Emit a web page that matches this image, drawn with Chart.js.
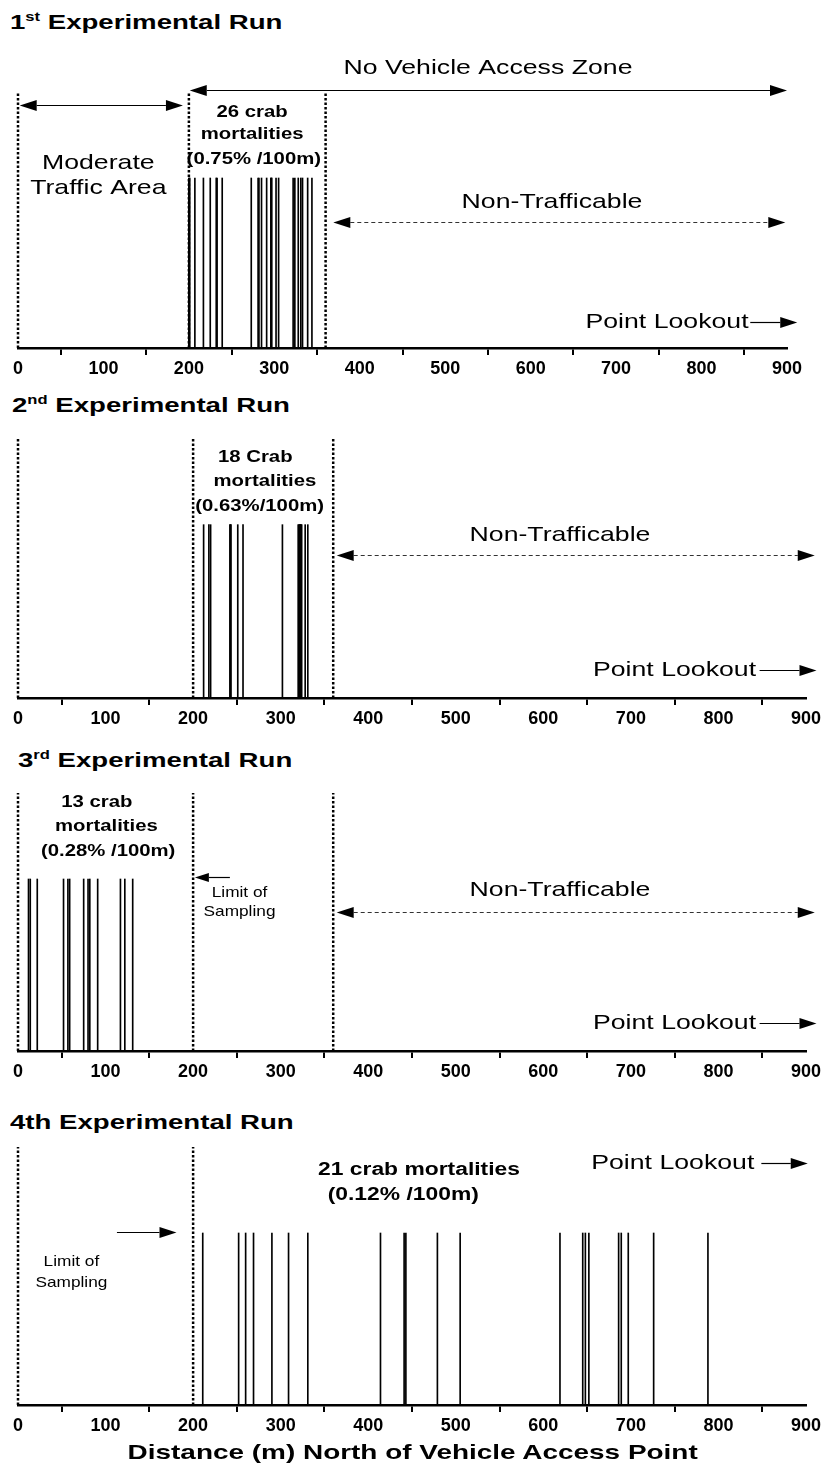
<!DOCTYPE html>
<html>
<head>
<meta charset="utf-8">
<script src="https://cdn.jsdelivr.net/npm/chart.js@4.4.0/dist/chart.umd.min.js"></script>
<style>
  body { margin: 0; background: #fff; width: 825px; height: 1470px; position: relative; overflow: hidden;
         font-family: "Liberation Sans", Arial, sans-serif; color: #000; }
  .ttl { position: absolute; font-weight: bold; font-size: 20px; line-height: 1; white-space: nowrap;
         transform: scaleX(1.38); transform-origin: left center; }
  .ttl sup { font-size: 12px; position: relative; top: -8px; vertical-align: baseline; }
  .box { position: absolute; left: 0; }
  #xtitle { position: absolute; left: 0; width: 825px; top: 1441px; text-align: center;
            font-weight: bold; font-size: 21px; line-height: 1; transform: scaleX(1.33); transform-origin: 412px center; }
</style>
</head>
<body>
<div class="ttl" style="left:10px;top:12px">1<sup>st</sup> Experimental Run</div>
<div class="ttl" style="left:12px;top:395px">2<sup>nd</sup> Experimental Run</div>
<div class="ttl" style="left:18px;top:750px">3<sup>rd</sup> Experimental Run</div>
<div class="ttl" style="left:10px;top:1112px">4th Experimental Run</div>

<div class="box" style="top:33px"><canvas id="c1" width="825" height="355"></canvas></div>
<div class="box" style="top:378px"><canvas id="c2" width="825" height="360"></canvas></div>
<div class="box" style="top:733px"><canvas id="c3" width="825" height="358"></canvas></div>
<div class="box" style="top:1087px"><canvas id="c4" width="825" height="358"></canvas></div>

<div id="xtitle">Distance (m) North of Vehicle Access Point</div>

<script>
// distances (m) of each crab mortality, per run
const run1 = [200, 200, 201, 207, 217, 225, 232, 233, 239, 273, 281, 282, 285, 291, 296, 296, 297, 302, 305, 322, 324, 328, 331, 333, 339, 344];
const run2 = [212, 218, 220, 242, 243, 243, 251, 257, 302, 320, 321, 322, 322, 323, 323, 324, 328, 331];
const run3 = [12, 14, 22, 52, 57, 59, 75, 80, 82, 91, 117, 122, 131];
const run4 = [211, 252, 260, 269, 290, 309, 331, 414, 441, 443, 479, 505, 619, 645, 648, 652, 686, 689, 697, 726, 788];

// dotted zone boundaries (m)
const bounds1 = [0, 200, 360];
const bounds2 = [0, 200, 360];
const bounds3 = [0, 200, 360];
const bounds4 = [0, 200];

const xTicks = [0, 100, 200, 300, 400, 500, 600, 700, 800, 900];
const markHeight = 1;
const yTop = 1.5;

const FONT = '"Liberation Sans", Arial, sans-serif';

// draws text and arrows given in data units
function makeNotes(items) {
    return {
        id: 'notes',
        afterDraw(chart) {
            const { ctx, scales: { x, y } } = chart;
            items.forEach(it => {
                ctx.save();
                if (it.text !== undefined) {
                    ctx.font = it.font;
                    ctx.fillStyle = '#000';
                    ctx.textAlign = it.align || 'center';
                    ctx.textBaseline = 'middle';
                    ctx.translate(x.getPixelForValue(it.x), y.getPixelForValue(it.y));
                    ctx.scale(it.sx || 1.27, 1);
                    ctx.fillText(it.text, 0, 0);
                    ctx.restore();
                    return;
                }
                const x1 = x.getPixelForValue(it.x1), x2 = x.getPixelForValue(it.x2);
                const yy = Math.round(y.getPixelForValue(it.y)) + 0.5;
                const hl = it.head || 17, hw = it.hw || 5.5;
                let a = x1, b = x2;
                if (it.heads === 'start' || it.heads === 'both') a += hl;
                if (it.heads === 'end' || it.heads === 'both') b -= hl;
                ctx.strokeStyle = it.dash ? '#333' : '#000';
                ctx.lineWidth = it.lw || 1.2;
                ctx.setLineDash(it.dash ? [4, 3] : []);
                ctx.beginPath(); ctx.moveTo(a, yy); ctx.lineTo(b, yy); ctx.stroke();
                ctx.setLineDash([]);
                ctx.fillStyle = '#000';
                if (it.heads === 'start' || it.heads === 'both') {
                    ctx.beginPath(); ctx.moveTo(x1, yy); ctx.lineTo(x1 + hl, yy - hw); ctx.lineTo(x1 + hl, yy + hw); ctx.closePath(); ctx.fill();
                }
                if (it.heads === 'end' || it.heads === 'both') {
                    ctx.beginPath(); ctx.moveTo(x2, yy); ctx.lineTo(x2 - hl, yy - hw); ctx.lineTo(x2 - hl, yy + hw); ctx.closePath(); ctx.fill();
                }
                ctx.restore();
            });
        }
    };
}

function makeChart(id, marks, bounds, rightPad, notes) {
    const datasets = [{
        type: 'bar',
        data: marks.map(m => ({ x: m, y: markHeight })),
        backgroundColor: '#000',
        barThickness: 1,
        grouped: false,
        order: 2
    }];
    bounds.forEach(b => datasets.push({
        type: 'line',
        data: [{ x: b, y: 0 }, { x: b, y: yTop }],
        borderColor: '#000',
        borderWidth: 2.5,
        borderDash: [2.5, 2],
        pointRadius: 0,
        clip: false,
        order: 1
    }));
    return new Chart(document.getElementById(id), {
        type: 'bar',
        data: { datasets },
        options: {
            responsive: false,
            animation: false,
            layout: { padding: { top: 60, left: 18, right: rightPad, bottom: 0 } },
            plugins: { legend: { display: false }, tooltip: { enabled: false } },
            scales: {
                x: {
                    type: 'linear', min: 0, max: 900, offset: false,
                    afterBuildTicks: s => { s.ticks = xTicks.map(v => ({ value: v })); },
                    afterFit: s => { s.height = 40; },
                    border: { display: true, color: '#000', width: 2.5 },
                    grid: { display: true, drawOnChartArea: false, drawTicks: true, tickLength: 7, color: '#000', lineWidth: 2 },
                    ticks: { color: '#000', padding: 3, maxRotation: 0, font: { family: FONT, size: 18, weight: 'bold' } }
                },
                y: { display: false, min: 0, max: yTop }
            }
        },
        plugins: [makeNotes(notes)]
    });
}

const fBig = '21px ' + FONT;
const fBold = 'bold 16px ' + FONT;
const fBold4 = 'bold 18px ' + FONT;
const fSmall = '15px ' + FONT;

makeChart('c1', run1, bounds1, 38, [
    { text: 'No Vehicle Access Zone', x: 550, y: 1.647, font: fBig },
    { x1: 201, x2: 900, y: 1.518, heads: 'both' },
    { x1: 2, x2: 193, y: 1.429, heads: 'both' },
    { text: '26 crab', x: 274, y: 1.382, font: fBold },
    { text: 'mortalities', x: 274, y: 1.253, font: fBold },
    { text: '(0.75% /100m)', x: 276, y: 1.106, font: fBold },
    { text: 'Moderate', x: 94, y: 1.088, font: fBig },
    { text: 'Traffic Area', x: 94, y: 0.941, font: fBig },
    { text: 'Non-Trafficable', x: 625, y: 0.859, font: fBig },
    { x1: 369, x2: 898, y: 0.741, heads: 'both', dash: true },
    { text: 'Point Lookout', x: 855, y: 0.153, font: fBig, align: 'right' },
    { x1: 857, x2: 912, y: 0.153, heads: 'end' }
]);

makeChart('c2', run2, bounds2, 19, [
    { text: '18 Crab', x: 271, y: 1.385, font: fBold },
    { text: 'mortalities', x: 282, y: 1.246, font: fBold },
    { text: '(0.63%/100m)', x: 276, y: 1.102, font: fBold },
    { text: 'Non-Trafficable', x: 619, y: 0.94, font: fBig },
    { x1: 364, x2: 910, y: 0.825, heads: 'both', dash: true },
    { text: 'Point Lookout', x: 843, y: 0.162, font: fBig, align: 'right' },
    { x1: 847, x2: 912, y: 0.162, heads: 'end' }
]);

makeChart('c3', run3, bounds3, 19, [
    { text: '13 crab', x: 90, y: 1.442, font: fBold },
    { text: 'mortalities', x: 101, y: 1.302, font: fBold },
    { text: '(0.28% /100m)', x: 103, y: 1.157, font: fBold },
    { x1: 202, x2: 242, y: 1.012, heads: 'start', head: 14, hw: 4.5 },
    { text: 'Limit of', x: 253, y: 0.919, font: fSmall, sx: 1.15 },
    { text: 'Sampling', x: 253, y: 0.808, font: fSmall, sx: 1.15 },
    { text: 'Non-Trafficable', x: 619, y: 0.936, font: fBig },
    { x1: 364, x2: 910, y: 0.808, heads: 'both', dash: true },
    { text: 'Point Lookout', x: 843, y: 0.163, font: fBig, align: 'right' },
    { x1: 847, x2: 912, y: 0.163, heads: 'end' }
]);

makeChart('c4', run4, bounds4, 19, [
    { text: '21 crab mortalities', x: 458, y: 1.366, font: fBold4 },
    { text: '(0.12% /100m)', x: 440, y: 1.221, font: fBold4 },
    { text: 'Point Lookout', x: 841, y: 1.407, font: fBig, align: 'right' },
    { x1: 849, x2: 902, y: 1.407, heads: 'end' },
    { x1: 113, x2: 181, y: 1.006, heads: 'end' },
    { text: 'Limit of', x: 61, y: 0.831, font: fSmall, sx: 1.15 },
    { text: 'Sampling', x: 61, y: 0.709, font: fSmall, sx: 1.15 }
]);
</script>
</body>
</html>
